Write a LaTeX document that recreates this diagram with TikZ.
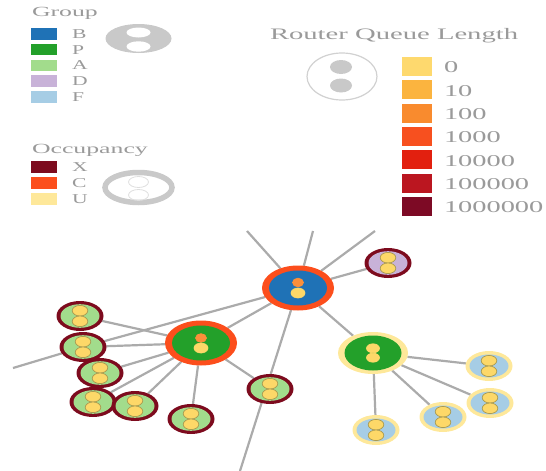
\documentclass[tikz,border=0pt]{standalone}
\usepackage{fontspec}
\setmainfont{Liberation Serif}
\usetikzlibrary{shapes.geometric,calc,backgrounds}

\definecolor{grpB}{HTML}{1F72B6}
\definecolor{grpP}{HTML}{23A02A}
\definecolor{grpA}{HTML}{A2DC8C}
\definecolor{grpD}{HTML}{C8B2D8}
\definecolor{grpF}{HTML}{A6CDE5}
\definecolor{occX}{HTML}{7D0B1E}
\definecolor{occC}{HTML}{FC4E1C}
\definecolor{occU}{HTML}{FEE89A}
\definecolor{q0}{HTML}{FED96E}
\definecolor{q1}{HTML}{FBB43F}
\definecolor{q2}{HTML}{F98B2E}
\definecolor{q3}{HTML}{F7501F}
\definecolor{q4}{HTML}{E2200F}
\definecolor{q5}{HTML}{BB1620}
\definecolor{q6}{HTML}{7D0A25}
\definecolor{dotY}{HTML}{FDD868}
\definecolor{dotO}{HTML}{FB8F3A}
\definecolor{dotLine}{HTML}{A99A50}
\definecolor{edgeC}{HTML}{ABABAB}
\definecolor{legTxt}{HTML}{9A9A9A}
\definecolor{legIcon}{HTML}{C9C9C9}

\newcommand{\pdot}[5]{\filldraw[fill=#1, draw=#2, line width=0.7pt] ($(path picture bounding box.center)+(0pt,#3)$) ellipse [x radius=#4, y radius=#5];}
\newcommand{\pinner}[3]{\fill[#1] (path picture bounding box.center) ellipse [x radius=#2, y radius=#3];}

\tikzset{
  netnode/.style={ellipse, inner sep=0pt, outer sep=0pt},
  smallnode/.style={netnode, minimum width=47pt, minimum height=30pt},
  bignode/.style={netnode, minimum width=72pt, minimum height=45pt},
  anode/.style={smallnode, fill=occX, path picture={\pinner{grpA}{19.5pt}{11.8pt}\pdot{dotY}{dotLine}{5.3pt}{7.8pt}{5.3pt}\pdot{dotY}{dotLine}{-5.3pt}{7.8pt}{5.3pt}}},
  dnode/.style={smallnode, fill=occX, path picture={\pinner{grpD}{19.5pt}{11.8pt}\pdot{dotY}{dotLine}{5.3pt}{7.8pt}{5.3pt}\pdot{dotY}{dotLine}{-5.3pt}{7.8pt}{5.3pt}}},
  fnode/.style={smallnode, fill=occU, path picture={\pinner{grpF}{19.5pt}{11.5pt}\pdot{dotY}{dotLine}{5.3pt}{7.8pt}{5.3pt}\pdot{dotY}{dotLine}{-5.3pt}{7.8pt}{5.3pt}}},
  bnode/.style={bignode, fill=occC, path picture={\pinner{grpB}{29pt}{17.5pt}\pdot{dotO}{dotO}{5.5pt}{5.5pt}{4.3pt}\pdot{dotY}{dotY}{-5pt}{7pt}{5pt}}},
  pcnode/.style={bignode, fill=occC, path picture={\pinner{grpP}{29pt}{17.5pt}\pdot{dotO}{dotO}{5pt}{5.5pt}{4.3pt}\pdot{dotY}{dotY}{-5pt}{7pt}{5pt}}},
  punode/.style={netnode, minimum width=70pt, minimum height=42pt, fill=occU, path picture={\pinner{grpP}{28.5pt}{17.5pt}\pdot{dotY}{dotY}{4.7pt}{6.5pt}{4.5pt}\pdot{dotY}{dotY}{-4.7pt}{6.5pt}{4.5pt}}},
  edge/.style={draw=edgeC, line width=2.2pt},
  legtext/.style={inner sep=0pt, outer sep=0pt, text=legTxt},
}

\begin{document}
\begin{tikzpicture}[x=1pt, y=-1pt]
\useasboundingbox (0,0) rectangle (546,471);

% ---------- Group legend ----------
\node[legtext, anchor=base west] (tGroup) at (32,16.5) {\fontsize{14}{14}\selectfont\scalebox{1.84}[1]{Group}};
\foreach \c/\l [count=\i from 0] in {grpB/B, grpP/P, grpA/A, grpD/D, grpF/F}{
  \fill[\c] (31,{28+\i*15.75}) rectangle (57,{39.5+\i*15.75});
  \node[legtext, anchor=west] (tG\l) at (72,{34+\i*15.75}) {\fontsize{13.5}{13.5}\selectfont\scalebox{1.6}[1]{\l}};
}
\fill[legIcon] (138.5,38.5) ellipse [x radius=33, y radius=14.5];
\fill[white] (138.5,32.5) ellipse [x radius=12, y radius=5];
\fill[white] (138.5,46.5) ellipse [x radius=12, y radius=5.2];

% ---------- Occupancy legend ----------
\node[legtext, anchor=base west] (tOcc) at (32,153.5) {\fontsize{14}{14}\selectfont\scalebox{1.84}[1]{Occupancy}};
\foreach \c/\l [count=\i from 0] in {occX/X, occC/C, occU/U}{
  \fill[\c] (31,{161+\i*16}) rectangle (57,{173+\i*16});
  \node[legtext, anchor=west] (tO\l) at (72,{167.5+\i*16}) {\fontsize{13.5}{13.5}\selectfont\scalebox{1.6}[1]{\l}};
}
\draw[legIcon, line width=5.5pt] (138.5,187.5) ellipse [x radius=33.5, y radius=15];
\draw[black!13, line width=0.8pt] (138.5,182) ellipse [x radius=10, y radius=5.5];
\draw[black!13, line width=0.8pt] (138.5,195) ellipse [x radius=10, y radius=5.5];

% ---------- Router queue legend ----------
\node[legtext, anchor=base west] (tQueue) at (270,39) {\fontsize{16}{16}\selectfont\scalebox{1.79}[1]{Router Queue Length}};
\draw[black!18, line width=1.2pt] (342,76.5) ellipse [x radius=35, y radius=23.5];
\fill[legIcon] (341,67) ellipse [x radius=11, y radius=7];
\fill[legIcon] (341,85.5) ellipse [x radius=11, y radius=7];
\foreach \c/\l [count=\i from 0] in {q0/0, q1/10, q2/100, q3/1000, q4/10000, q5/100000, q6/1000000}{
  \fill[\c] (402,{57+\i*23.3}) rectangle (432,{76+\i*23.3});
  \node[legtext, anchor=west] (tQ\i) at (444,{67.5+\i*23.3}) {\fontsize{16.5}{16.5}\selectfont\scalebox{1.72}[1]{\l}};
}

% ---------- network ----------
\node[bnode] (B) at (298,288) {};
\node[pcnode] (P1) at (201,343) {};
\node[punode] (P2) at (373,353) {};
\node[dnode] (D) at (388,263) {};
\node[anode] (A1) at (80,316) {};
\node[anode] (A2) at (83,347) {};
\node[anode] (A3) at (100,373) {};
\node[anode] (A4) at (93,402) {};
\node[anode] (A5) at (135,406) {};
\node[anode] (A6) at (191,419) {};
\node[anode] (A7) at (270,389) {};
\node[fnode] (F1) at (489,366) {};
\node[fnode] (F2) at (490,403) {};
\node[fnode] (F3) at (443,417) {};
\node[fnode] (F4) at (376,430) {};

\coordinate (top1) at (247,231);
\coordinate (top2) at (313,231);
\coordinate (top3) at (375,231);
\coordinate (bottom) at (240,471);
\coordinate (left) at (13,368);

\begin{scope}[on background layer]
  \draw[edge] (B) -- (top1);
  \draw[edge] (B) -- (top2);
  \draw[edge] (B) -- (top3);
  \draw[edge] (B) -- (D);
  \draw[edge] (B) -- (P2);
  \draw[edge] (B.center) -- (bottom);
  \draw[edge] (B) -- (P1);
  \draw[edge] (B) -- (A2);
  \draw[edge] (A2) -- (left);
  \foreach \n in {A1,A2,A3,A4,A5,A6,A7} \draw[edge] (P1) -- (\n);
  \foreach \n in {F1,F2,F3,F4} \draw[edge] (P2) -- (\n);
\end{scope}
\end{tikzpicture}
\end{document}
